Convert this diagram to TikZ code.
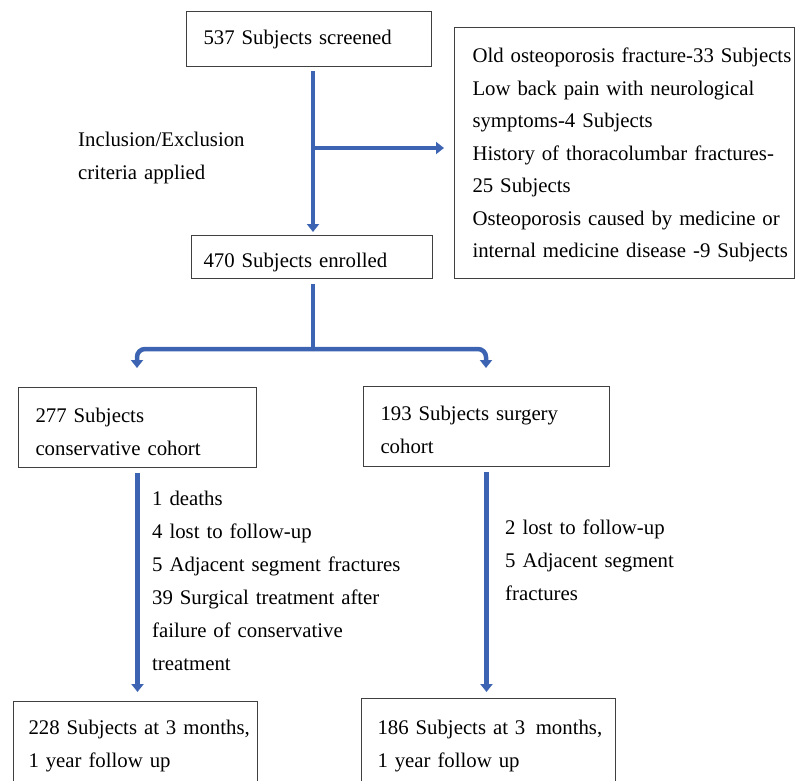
\documentclass[tikz,border=0pt]{standalone}
\usepackage{fontspec}
\setmainfont{Liberation Serif}
\usetikzlibrary{arrows.meta,calc}
\definecolor{boxgray}{RGB}{64,64,64}
\definecolor{flowblue}{RGB}{60,100,178}
\begin{document}
\begin{tikzpicture}[x=1pt,y=-1pt,
  box/.style={draw=boxgray, line width=1pt, anchor=north west, inner ysep=0pt, align=left,
              font=\fontsize{20.8}{33}\selectfont},
  lbl/.style={anchor=base west, inner sep=0pt, align=left, font=\fontsize{20.8}{33}\selectfont},
  flowline/.style={draw=flowblue, line width=4.5pt},
  flow/.style={flowline, -{Triangle[width=12pt,length=8pt]}},
]
\useasboundingbox (0,0) rectangle (795,780);
\clip (0,0) rectangle (795,780);

% boxes
\node[box, inner xsep=17pt, text width=211pt, text height=33pt, text depth=22pt] (top) at (186,11)
  {537 Subjects screened};
\node[box, inner xsep=18pt, text width=304pt, text height=35pt, text depth=216pt,
      font=\fontsize{20.8}{32.5}\selectfont] (excl) at (454,27)
  {\mbox{Old osteoporosis fracture-33 Subjects}\\
   \mbox{Low back pain with neurological}\\
   \mbox{symptoms-4 Subjects}\\
   \mbox{History of thoracolumbar fractures-}\\
   \mbox{25 Subjects}\\
   \mbox{Osteoporosis caused by medicine or}\\
   \mbox{internal medicine disease -9 Subjects}};
\node[box, inner xsep=12pt, text width=217pt, text height=32pt, text depth=11pt] (enrolled) at (191,235)
  {470 Subjects enrolled};
\node[box, inner xsep=17pt, text width=204pt, text height=35pt, text depth=45pt] (lc) at (18,387)
  {277 Subjects\\conservative cohort};
\node[box, inner xsep=17pt, text width=212pt, text height=34pt, text depth=46pt] (rc) at (363,386)
  {193 Subjects surgery\\cohort};
\node[box, inner xsep=15pt, text width=214pt, text height=33pt, text depth=70pt] (bl) at (13,701)
  {\mbox{228 Subjects at 3 months,}\\1 year follow up};
\node[box, inner xsep=16pt, text width=222pt, text height=36pt, text depth=73pt] (br) at (361,698)
  {\mbox{186 Subjects at 3\ \,months,}\\1 year follow up};

% labels
\node[lbl, text width=220pt] (crit) at (78,146) {Inclusion/Exclusion\\criteria applied};
\node[lbl, text width=260pt] (lnotes) at (152,505)
  {1 deaths\\4 lost to follow-up\\5 Adjacent segment fractures\\39 Surgical treatment after\\failure of conservative\\treatment};
\node[lbl, text width=220pt] (rnotes) at (505,534)
  {2 lost to follow-up\\5 Adjacent segment\\fractures};

% connectors
\coordinate (mx) at (313,0);
\coordinate (bj) at (313,148);
\coordinate (sj) at (313,349);
\coordinate (lt) at (137,368);
\coordinate (rt) at (486,368);

\draw[flow, shorten <=4pt, shorten >=3pt] (top.south -| mx) -- (enrolled.north -| mx);
\draw[flow, shorten >=10pt] (bj) -- (bj -| excl.west);
\draw[flowline, shorten <=5pt] (enrolled.south -| mx) -- (sj);
\draw[flow, rounded corners=8pt] (sj) -| (lt);
\draw[flow, rounded corners=8pt] (sj) -| (rt);
\draw[flow, shorten <=5pt, shorten >=9pt] (lc.south) -- (lc.south |- bl.north);
\draw[flow, shorten <=5pt, shorten >=6pt] (rc.south) -- (rc.south |- br.north);
\end{tikzpicture}
\end{document}
